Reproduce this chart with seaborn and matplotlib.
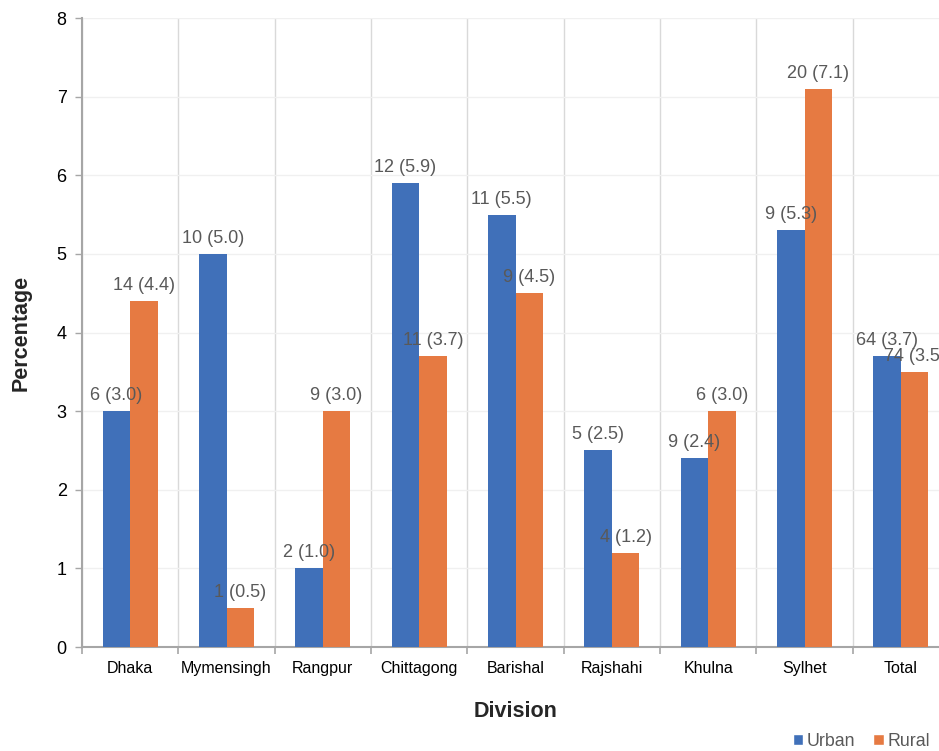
import matplotlib
matplotlib.use("Agg")
import matplotlib.pyplot as plt
from matplotlib.patches import Patch
from matplotlib.ticker import FixedLocator
import seaborn as sns
import pandas as pd

divisions = ["Dhaka", "Mymensingh", "Rangpur", "Chittagong", "Barishal",
             "Rajshahi", "Khulna", "Sylhet", "Total"]
urban_pct = [3.0, 5.0, 1.0, 5.9, 5.5, 2.5, 2.4, 5.3, 3.7]
urban_n = [6, 10, 2, 12, 11, 5, 9, 9, 64]
rural_pct = [4.4, 0.5, 3.0, 3.7, 4.5, 1.2, 3.0, 7.1, 3.5]
rural_n = [14, 1, 9, 11, 9, 4, 6, 20, 74]
series = ["Urban", "Rural"]
colors = ["#4070B9", "#E67A42"]

df = pd.DataFrame({
    "Division": divisions * 2,
    "Area": ["Urban"] * len(divisions) + ["Rural"] * len(divisions),
    "Percentage": urban_pct + rural_pct,
    "Count": urban_n + rural_n,
})

sns.set_theme(style="white")
plt.rcParams["font.family"] = ["Liberation Sans", "DejaVu Sans"]

fig = plt.figure(figsize=(9.39, 7.51), dpi=100)
ax = fig.add_axes([82 / 939, 104 / 751, 867 / 939, 629 / 751])

sns.barplot(data=df, x="Division", y="Percentage", hue="Area",
            hue_order=series, palette=colors, width=0.57,
            saturation=1, ax=ax, legend=False, errorbar=None, zorder=3,
            linewidth=0)

ax.set_xlim(-0.5, len(divisions) - 0.5)
ax.set_ylim(0, 8)
ax.set_yticks(range(0, 9))

# category separators and faint horizontal grid
ax.xaxis.set_minor_locator(FixedLocator([i - 0.5 for i in range(len(divisions) + 1)]))
ax.grid(axis="x", which="minor", color="#d9d9d9", linewidth=1, zorder=0)
ax.grid(axis="y", which="major", color="#f0f0f0", linewidth=1, zorder=0)
ax.grid(axis="x", which="major", visible=False)
ax.tick_params(axis="x", which="major", length=0, pad=10, labelsize=11.5, colors="black")
ax.tick_params(axis="x", which="minor", length=5, width=1.2, color="#a6a6a6", bottom=True)
ax.tick_params(axis="y", which="major", length=5, width=1, color="#a6a6a6",
               left=True, labelsize=13, labelcolor="black", pad=6)

for side in ["top", "right"]:
    ax.spines[side].set_visible(False)
for side in ["left", "bottom"]:
    ax.spines[side].set_color("#a6a6a6")
    ax.spines[side].set_linewidth(1.5)

# value labels: count (percentage)
for container, pcts, counts in zip(ax.containers, [urban_pct, rural_pct], [urban_n, rural_n]):
    labels = [f"{n} ({p:.1f})" for n, p in zip(counts, pcts)]
    ax.bar_label(container, labels=labels, padding=5, fontsize=13,
                 color="#595959", zorder=4)

ax.set_xlabel("Division", fontsize=15.5, fontweight="bold", labelpad=18)
ax.set_ylabel("Percentage", fontsize=15.5, fontweight="bold", labelpad=18)

handles = [Patch(facecolor=c, label=s) for c, s in zip(colors, series)]
fig.legend(handles=handles, loc="center right", bbox_to_anchor=(1.0, 10 / 751),
           ncol=2, frameon=False, fontsize=12.8, labelcolor="#595959",
           handlelength=0.6, handleheight=0.6, handletextpad=0.2, columnspacing=1.0,
           borderaxespad=0.1)

fig.savefig("out.png", dpi=100)
